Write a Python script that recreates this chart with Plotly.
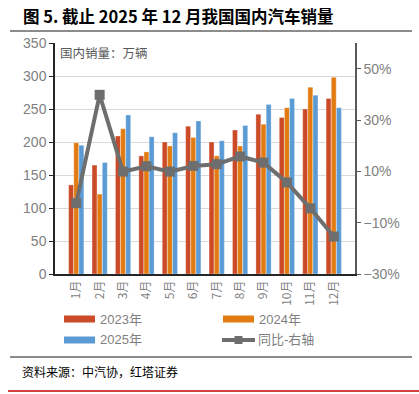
import plotly.graph_objects as go

months = ["1月", "2月", "3月", "4月", "5月", "6月", "7月", "8月", "9月", "10月", "11月", "12月"]
sales_2023 = [135, 165, 209, 179, 200, 224, 200, 218, 242, 237, 250, 266]
sales_2024 = [199, 121, 220, 185, 194, 207, 179, 194, 227, 252, 283, 298]
sales_2025 = [195, 169, 241, 208, 214, 232, 202, 225, 257, 266, 271, 252]
yoy_2025 = [-2.4, 39.8, 9.9, 12.0, 9.9, 12.1, 12.8, 15.8, 13.4, 5.7, -4.4, -15.4]

left_ticks = [0, 50, 100, 150, 200, 250, 300, 350]
right_ticks = [-30, -10, 10, 30, 50]
right_labels = ["−30%", "−10%", "10%", "30%", "50%"]

C_RED = "#CB4A27"
C_ORANGE = "#E27C12"
C_BLUE = "#5B9BD5"
C_LINE = "#6E6E6E"
GREY_TXT = "#7F7F7F"

W, H = 419, 394
L, R, T, B = 55, 355, 43, 274

def px(x):
    return (x - L) / (R - L)

def py(y):
    return (B - y) / (B - T)

fig = go.Figure()
for name, vals, col in [("2023年", sales_2023, C_RED), ("2024年", sales_2024, C_ORANGE), ("2025年", sales_2025, C_BLUE)]:
    fig.add_trace(go.Bar(x=months, y=vals, name=name, marker=dict(color=col, line=dict(width=0.6, color="rgba(255,255,255,0.5)")),
                         showlegend=False))
fig.add_trace(go.Scatter(x=months, y=yoy_2025, yaxis="y2", mode="lines+markers", name="同比-右轴",
                         line=dict(color=C_LINE, width=4), marker=dict(symbol="square", size=10, color=C_LINE),
                         showlegend=False))

font_main = "Liberation Sans, Arial, Noto Sans CJK SC, sans-serif"
font_cjk = "Noto Sans CJK SC, sans-serif"

fig.update_layout(
    width=W, height=H,
    margin=dict(l=L, r=W - R, t=T, b=H - B),
    paper_bgcolor="white", plot_bgcolor="white",
    barmode="group", bargap=0.34, bargroupgap=0.04,
    font=dict(family=font_main, color=GREY_TXT, size=13),
    xaxis=dict(showline=True, linecolor="#262626", linewidth=1.5, ticks="", tickangle=-90,
               tickfont=dict(family=font_cjk, size=12, color=GREY_TXT), showgrid=False),
    yaxis=dict(range=[0, 350], tickvals=left_ticks, showline=True, linecolor="#262626", linewidth=1.5,
               ticks="outside", ticklen=4, tickcolor="#262626", gridcolor="#D9D9D9", gridwidth=1,
               tickfont=dict(size=14, color=GREY_TXT), zeroline=False),
    yaxis2=dict(range=[-30, 60], overlaying="y", side="right", tickvals=right_ticks, ticktext=right_labels,
                showline=True, linecolor="#595959", linewidth=1.5, ticks="outside", ticklen=4, tickcolor="#595959",
                showgrid=False, zeroline=False, tickfont=dict(size=14, color=GREY_TXT)),
    showlegend=False,
)

shapes = []
annotations = []
shapes.append(dict(type="line", xref="paper", yref="paper", x0=px(10), x1=px(412), y0=py(31), y1=py(31),
                   line=dict(color="#8C8C8C", width=2)))
shapes.append(dict(type="line", xref="paper", yref="paper", x0=px(10), x1=px(412), y0=py(357), y1=py(357),
                   line=dict(color="#8C8C8C", width=2)))
shapes.append(dict(type="line", xref="paper", yref="paper", x0=px(8), x1=px(419), y0=py(391), y1=py(391),
                   line=dict(color="#C00000", width=1.5)))

annotations.append(dict(text="<b>图 5. 截止 2025 年 12 月我国国内汽车销量</b>", xref="paper", yref="paper",
                        x=px(21), y=py(16), xanchor="left", yanchor="middle", showarrow=False,
                        font=dict(family=font_cjk, size=16.5, color="#000000")))
annotations.append(dict(text="国内销量：万辆", xref="paper", yref="paper", x=px(58), y=py(53),
                        xanchor="left", yanchor="middle", showarrow=False,
                        font=dict(family=font_cjk, size=12.5, color="#595959")))
annotations.append(dict(text="资料来源：中汽协，红塔证券", xref="paper", yref="paper", x=px(20), y=py(371),
                        xanchor="left", yanchor="middle", showarrow=False,
                        font=dict(family=font_cjk, size=12, color="#000000")))

leg = [("2023年", C_RED, 64, 319, "bar"), ("2024年", C_ORANGE, 223, 319, "bar"),
       ("2025年", C_BLUE, 64, 340, "bar"), ("同比-右轴", C_LINE, 222, 340, "line")]
for name, col, x0, yc, kind in leg:
    if kind == "bar":
        shapes.append(dict(type="rect", xref="paper", yref="paper", x0=px(x0), x1=px(x0 + 31),
                           y0=py(yc - 3.5), y1=py(yc + 3.5), fillcolor=col, line=dict(width=0)))
    else:
        shapes.append(dict(type="line", xref="paper", yref="paper", x0=px(x0), x1=px(x0 + 33),
                           y0=py(yc), y1=py(yc), line=dict(color=col, width=4)))
        shapes.append(dict(type="rect", xref="paper", yref="paper", x0=px(x0 + 12.5), x1=px(x0 + 20.5),
                           y0=py(yc - 4), y1=py(yc + 4), fillcolor=col, line=dict(width=0)))
    annotations.append(dict(text=name, xref="paper", yref="paper", x=px(x0 + 34), y=py(yc),
                            xanchor="left", yanchor="middle", showarrow=False,
                            font=dict(family=font_main, size=13, color=GREY_TXT)))

fig.update_layout(shapes=shapes, annotations=annotations)
fig.write_html("out.html", config={"displayModeBar": False},
               post_script="document.body.style.margin='0';document.body.style.padding='0';document.body.style.overflow='hidden';")
